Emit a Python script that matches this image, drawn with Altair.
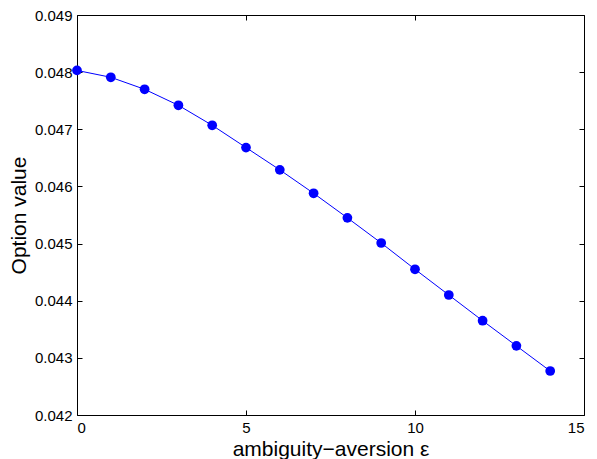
import altair as alt
import pandas as pd

eps = list(range(15))
option_value = [0.04803, 0.04791, 0.04770, 0.04742, 0.04707, 0.04668, 0.04629,
                0.04588, 0.04545, 0.04501, 0.04455, 0.04410, 0.04365, 0.04321, 0.04277]
x_ticks = [0, 5, 10, 15]
y_ticks = [0.042, 0.043, 0.044, 0.045, 0.046, 0.047, 0.048, 0.049]

df = pd.DataFrame({"eps": eps, "v": option_value})

FONT = "Liberation Sans"
BLUE = "#0000ff"

xs = alt.Scale(domain=[0, 15], nice=False, zero=False)
ys = alt.Scale(domain=[0.042, 0.049], nice=False, zero=False)

base = alt.Chart(df)

main_line = base.mark_line(color=BLUE, strokeWidth=1).encode(
    x=alt.X("eps:Q", scale=xs, axis=alt.Axis(
        values=x_ticks, format="d", title="ambiguity\u2212aversion \u03b5",
        ticks=False, domain=False, labelPadding=5, titlePadding=3,
        labelFontSize=15, titleFontSize=21, labelFont=FONT, titleFont=FONT,
        labelColor="black", titleColor="black", titleFontWeight="normal",
        grid=False)),
    y=alt.Y("v:Q", scale=ys, axis=alt.Axis(
        values=y_ticks, format=".3f", title="Option value",
        ticks=False, domain=False, labelPadding=5, titlePadding=5,
        labelFontSize=15, titleFontSize=21, labelFont=FONT, titleFont=FONT,
        labelColor="black", titleColor="black", titleFontWeight="normal",
        grid=False)),
)

tick_axis = dict(labels=False, domain=False, grid=False, title=None,
                 ticks=True, tickSize=5, tickColor="black", tickWidth=1, offset=-5)

points = base.mark_circle(color=BLUE, size=95, opacity=1).encode(
    x=alt.X("eps:Q", scale=xs, axis=alt.Axis(orient="bottom", values=x_ticks, **tick_axis)),
    y=alt.Y("v:Q", scale=ys, axis=alt.Axis(orient="left", values=y_ticks, **tick_axis)),
)

mirror = base.mark_line(opacity=0).encode(
    x=alt.X("eps:Q", scale=xs, axis=alt.Axis(orient="top", values=x_ticks, **tick_axis)),
    y=alt.Y("v:Q", scale=ys, axis=alt.Axis(orient="right", values=y_ticks, **tick_axis)),
)

chart = alt.layer(main_line, points, mirror).resolve_axis(
    x="independent", y="independent"
).properties(
    width=507, height=400, padding={"left": 0, "top": 0, "right": 2, "bottom": 0}
).configure_view(stroke="black", strokeWidth=1)

chart.save("out.html", embed_options={"renderer": "svg", "actions": False})
